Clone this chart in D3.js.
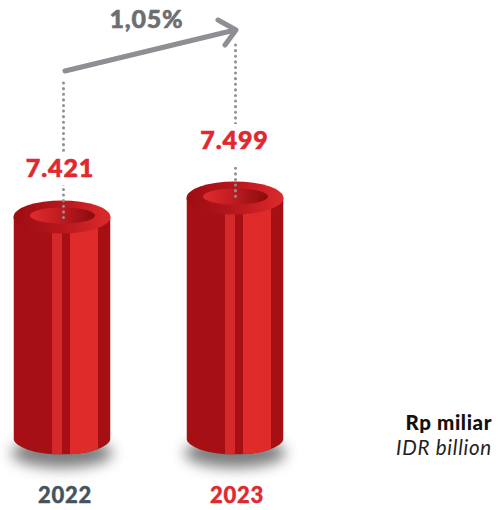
<!DOCTYPE html>
<meta charset="utf-8">
<style>
  html, body { margin: 0; padding: 0; background: #fff; }
  svg { display: block; font-family: Lato, sans-serif; }
</style>
<div id="chart"></div>
<script src="https://d3js.org/d3.v7.min.js"></script>
<script>
var categories = ["2022", "2023"];
var values = [7421, 7499];
var valueLabels = ["7.421", "7.499"];
var growthLabel = "1,05%";
var unitLines = ["Rp miliar", "IDR billion"];

var width = 499, height = 510;
var baseY = 438;

var svg = d3.select("#chart").append("svg")
    .attr("width", width)
    .attr("height", height);

// axis is truncated in the original, the bars are nearly the same height
var x = d3.scalePoint().domain(categories).range([62, 235]);
var y = d3.scaleLinear().domain([6514, 7499]).range([baseY, 198]);

var rx = 48.5, ry = 16.5;       // outer ellipse
var irx = 32.5, iry = 8;        // hole

var defs = svg.append("defs");

var ringGrad = defs.append("linearGradient").attr("id", "ring");
ringGrad.append("stop").attr("offset", "0%").attr("stop-color", "#9c0d12");
ringGrad.append("stop").attr("offset", "45%").attr("stop-color", "#b3161b");
ringGrad.append("stop").attr("offset", "100%").attr("stop-color", "#dd2a2c");

var holeGrad = defs.append("linearGradient").attr("id", "hole");
holeGrad.append("stop").attr("offset", "0%").attr("stop-color", "#e02c2e");
holeGrad.append("stop").attr("offset", "40%").attr("stop-color", "#c41e22");
holeGrad.append("stop").attr("offset", "100%").attr("stop-color", "#8a0a0e");

defs.append("filter").attr("id", "blur")
    .attr("x", "-30%").attr("y", "-80%").attr("width", "160%").attr("height", "260%")
  .append("feGaussianBlur").attr("stdDeviation", 7);

// stripes on the body: start, end (offset from centre), colour
var stripes = [
  [-48.5, 48.5, "#a60f14"],
  [-10, 0, "#d4282b"],
  [8, 36, "#e02b2b"]
];

function bodyPath(cx, top) {
  return "M" + (cx - rx) + "," + top +
    "V" + baseY +
    "A" + rx + "," + ry + " 0 0 0 " + (cx + rx) + "," + baseY +
    "V" + top + "Z";
}

var bars = svg.selectAll(".bar")
    .data(categories)
    .enter().append("g")
    .attr("class", "bar");

// shadow under the base
bars.append("ellipse")
    .attr("cx", function(d) { return x(d); })
    .attr("cy", baseY + 15)
    .attr("rx", rx + 2)
    .attr("ry", 15)
    .attr("fill", "#666")
    .attr("opacity", 0.85)
    .attr("filter", "url(#blur)");

bars.each(function(d, i) {
  var g = d3.select(this);
  var cx = x(d), top = y(values[i]);
  var clipId = "clip-" + i;
  defs.append("clipPath").attr("id", clipId)
    .append("path").attr("d", bodyPath(cx, top));

  g.append("g").attr("clip-path", "url(#" + clipId + ")")
    .selectAll("rect")
    .data(stripes)
    .enter().append("rect")
    .attr("x", function(s) { return cx + s[0]; })
    .attr("width", function(s) { return s[1] - s[0]; })
    .attr("y", top)
    .attr("height", baseY + ry - top)
    .attr("fill", function(s) { return s[2]; });

  g.append("ellipse")
    .attr("cx", cx).attr("cy", top)
    .attr("rx", rx).attr("ry", ry)
    .attr("fill", "url(#ring)");

  g.append("ellipse")
    .attr("cx", cx + 0.5).attr("cy", top - 1.5)
    .attr("rx", irx).attr("ry", iry)
    .attr("fill", "url(#hole)");
});

// dotted leaders
var leaderTops = [83, 45];
var leaderShift = [1.5, 0.5];
svg.selectAll(".leader")
    .data(categories)
    .enter().append("line")
    .attr("class", "leader")
    .attr("x1", function(d, i) { return x(d) + leaderShift[i]; })
    .attr("x2", function(d, i) { return x(d) + leaderShift[i]; })
    .attr("y1", function(d, i) { return leaderTops[i]; })
    .attr("y2", function(d, i) { return y(values[i]) + 3; })
    .attr("stroke", "#8f9096")
    .attr("stroke-width", 3)
    .attr("stroke-linecap", "round")
    .attr("stroke-dasharray", "0.1 5.5");

// value labels sit higher over the taller bar
var labelLift = [40, 49];

// white gap in the leader behind the value labels
svg.selectAll(".value-gap")
    .data(categories)
    .enter().append("rect")
    .attr("class", "value-gap")
    .attr("x", function(d) { return x(d) - 36; })
    .attr("width", 72)
    .attr("y", function(d, i) { return y(values[i]) - labelLift[i] - 25; })
    .attr("height", function(d, i) { return labelLift[i] - 7; })
    .attr("fill", "#fff");

svg.selectAll(".value")
    .data(categories)
    .enter().append("text")
    .attr("class", "value")
    .attr("x", function(d, i) { return x(d) - 2 + i * 1.5; })
    .attr("y", function(d, i) { return y(values[i]) - labelLift[i]; })
    .attr("text-anchor", "middle")
    .attr("font-size", 25)
    .attr("font-weight", 900)
    .attr("letter-spacing", 0.9)
    .attr("fill", "#e0282e")
    .attr("stroke", "#e0282e")
    .attr("stroke-width", 0.6)
    .text(function(d, i) { return valueLabels[i]; });

// growth arrow
svg.append("path")
    .attr("d", "M65,71L235,30M218,20L236,30L225,45")
    .attr("fill", "none")
    .attr("stroke", "#8e8e93")
    .attr("stroke-width", 5)
    .attr("stroke-linecap", "round")
    .attr("stroke-linejoin", "round");

svg.append("text")
    .attr("x", 146.5)
    .attr("y", 28)
    .attr("text-anchor", "middle")
    .attr("font-size", 25)
    .attr("font-weight", 900)
    .attr("letter-spacing", 0.8)
    .attr("fill", "#6d6e71")
    .attr("stroke", "#6d6e71")
    .attr("stroke-width", 0.5)
    .text(growthLabel);

// category labels
svg.selectAll(".cat")
    .data(categories)
    .enter().append("text")
    .attr("class", "cat")
    .attr("x", function(d, i) { return x(d) + 3 - i; })
    .attr("y", 503)
    .attr("text-anchor", "middle")
    .attr("font-size", 22)
    .attr("font-weight", 900)
    .attr("letter-spacing", 0.8)
    .attr("fill", function(d, i) { return i === 0 ? "#46535c" : "#e0282e"; })
    .attr("stroke", function(d, i) { return i === 0 ? "#46535c" : "#e0282e"; })
    .attr("stroke-width", 0.4)
    .text(function(d) { return d; });

// unit note
svg.selectAll(".unit")
    .data(unitLines)
    .enter().append("text")
    .attr("class", "unit")
    .attr("x", 492)
    .attr("y", function(d, i) { return 430 + i * 25; })
    .attr("text-anchor", "end")
    .attr("font-size", 20.5)
    .attr("letter-spacing", function(d, i) { return i === 0 ? 0.6 : 0.75; })
    .attr("font-weight", function(d, i) { return i === 0 ? 900 : 400; })
    .attr("font-style", function(d, i) { return i === 0 ? "normal" : "italic"; })
    .attr("fill", function(d, i) { return i === 0 ? "#111" : "#222"; })
    .text(function(d) { return d; });
</script>
